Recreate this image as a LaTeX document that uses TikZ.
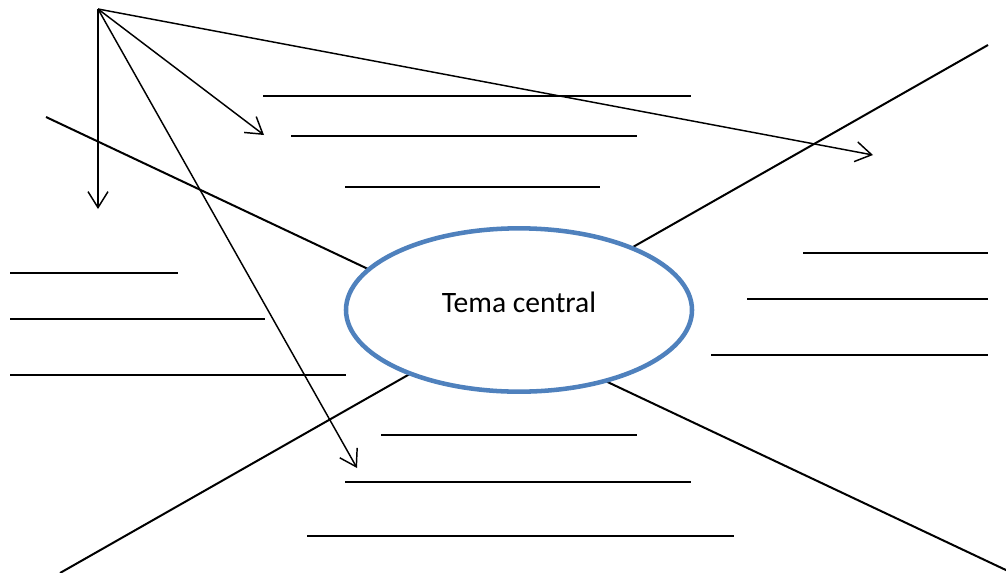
\documentclass[tikz,border=0pt]{standalone}
\usepackage{fontspec}
\setmainfont{Carlito}
\usetikzlibrary{arrows.meta,shapes.geometric}
\definecolor{ellblue}{HTML}{4F81BD}
\tikzset{
  blank/.style={draw=black, line width=1.5pt},
  bigline/.style={draw=black, line width=1.5pt},
  pointer/.style={draw=black, line width=1.1pt, -{Straight Barb[length=12pt,width=15pt,line width=1.1pt]}},
  central/.style={ellipse, draw=ellblue, line width=3.4pt, fill=white, minimum width=259.5pt, minimum height=122.5pt, inner sep=0pt},
  label/.style={font=\fontsize{22.2}{26}\selectfont, inner sep=0pt, text depth=0pt}
}
\begin{document}
\begin{tikzpicture}[x=0.75pt, y=-0.75pt]
\useasboundingbox (0,0) rectangle (1006,572);
% big crossing lines
\coordinate (l1a) at (46,117);
\coordinate (l1b) at (1008,571);
\coordinate (l2a) at (988,45);
\coordinate (l2b) at (60,573);
\draw[bigline] (l1a) -- (l1b);
\draw[bigline] (l2a) -- (l2b);
% central ellipse
\node[central] (tema) at (519,310) {};
\node[label] (temat) at (519,302) {Tema central};
% top blanks
\coordinate (t1a) at (263,96);  \coordinate (t1b) at (691,96);
\coordinate (t2a) at (291,136); \coordinate (t2b) at (637,136);
\coordinate (t3a) at (345,187); \coordinate (t3b) at (600,187);
\draw[blank] (t1a) -- (t1b);
\draw[blank] (t2a) -- (t2b);
\draw[blank] (t3a) -- (t3b);
% left blanks
\coordinate (lf1a) at (10,273); \coordinate (lf1b) at (178,273);
\coordinate (lf2a) at (10,319); \coordinate (lf2b) at (265,319);
\coordinate (lf3a) at (10,375); \coordinate (lf3b) at (346,375);
\draw[blank] (lf1a) -- (lf1b);
\draw[blank] (lf2a) -- (lf2b);
\draw[blank] (lf3a) -- (lf3b);
% right blanks
\coordinate (r1a) at (803,253); \coordinate (r1b) at (988,253);
\coordinate (r2a) at (747,299); \coordinate (r2b) at (988,299);
\coordinate (r3a) at (711,355); \coordinate (r3b) at (988,355);
\draw[blank] (r1a) -- (r1b);
\draw[blank] (r2a) -- (r2b);
\draw[blank] (r3a) -- (r3b);
% bottom blanks
\coordinate (b1a) at (381,435); \coordinate (b1b) at (637,435);
\coordinate (b2a) at (345,482); \coordinate (b2b) at (691,482);
\coordinate (b3a) at (307,536); \coordinate (b3b) at (734,536);
\draw[blank] (b1a) -- (b1b);
\draw[blank] (b2a) -- (b2b);
\draw[blank] (b3a) -- (b3b);
% arrows from source
\coordinate (src) at (98,9);
\coordinate (tipdown) at (98,209);
\coordinate (tiptop) at (264,135);
\coordinate (tipbottom) at (357,468);
\coordinate (tipright) at (873,155);
\draw[pointer] (src) -- (tipdown);
\draw[pointer] (src) -- (tiptop);
\draw[pointer] (src) -- (tipbottom);
\draw[pointer] (src) -- (tipright);
\end{tikzpicture}
\end{document}
